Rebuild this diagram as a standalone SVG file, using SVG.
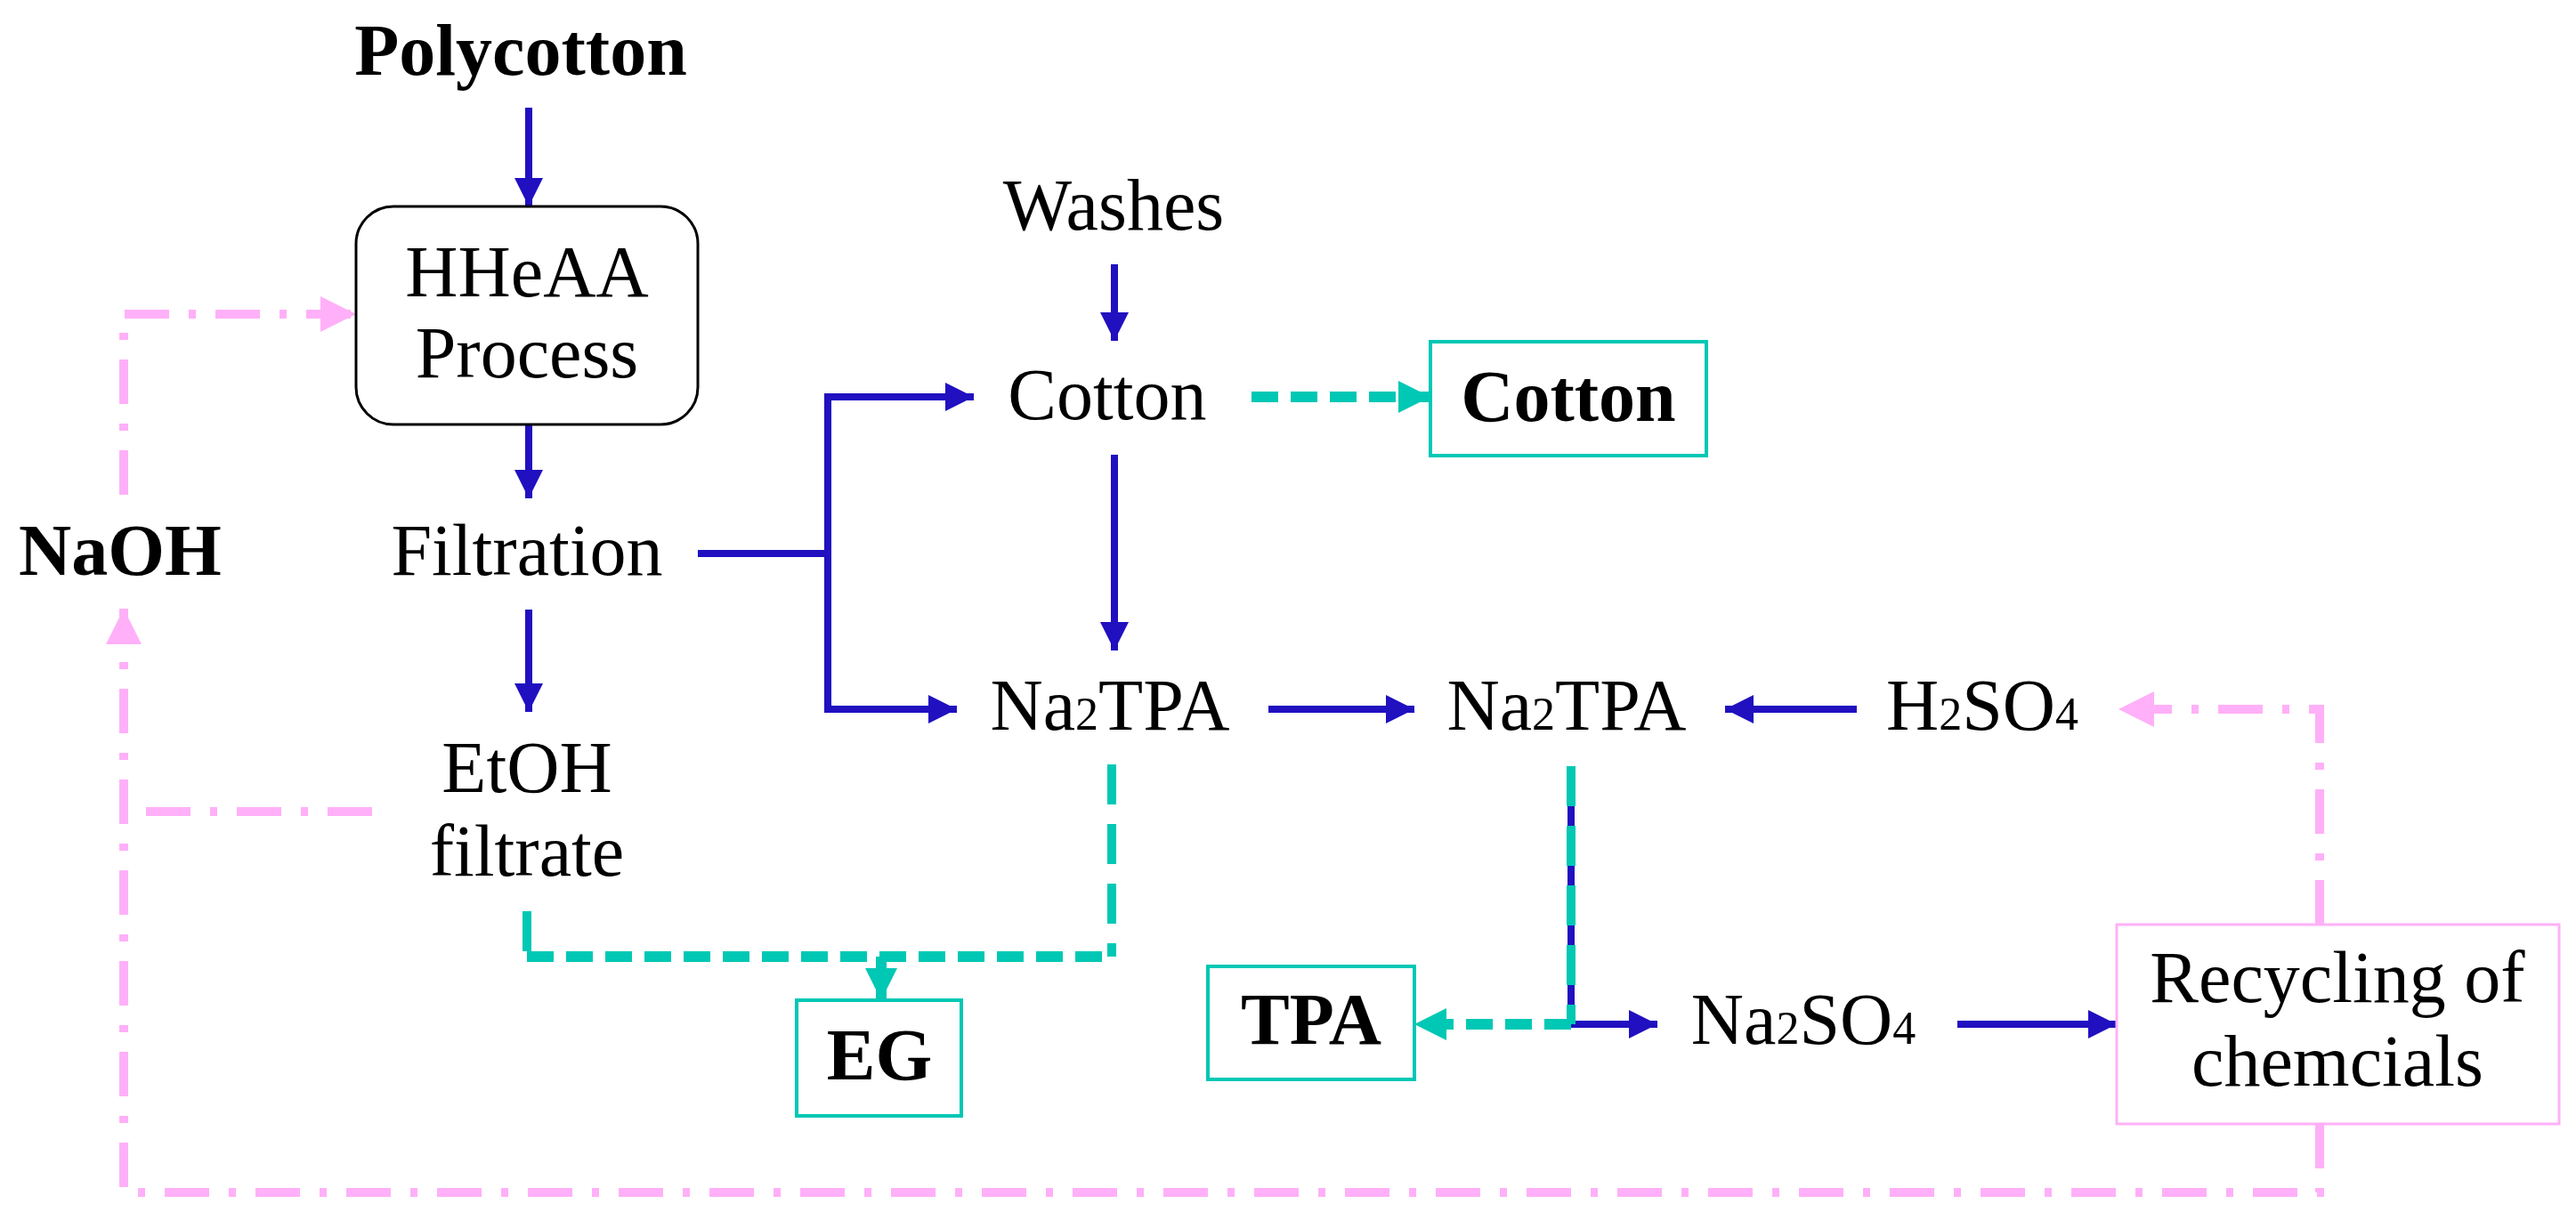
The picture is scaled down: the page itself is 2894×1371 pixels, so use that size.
<svg xmlns="http://www.w3.org/2000/svg" width="2894" height="1371" viewBox="0 0 2894 1371">
<style>
text{font-family:"Liberation Serif","DejaVu Serif",serif;font-size:82px;fill:#000;text-anchor:middle}
.b{font-weight:bold}
.s{font-size:52px}
.blue{stroke:#2010C0;stroke-width:8;fill:none}
.teal{stroke:#00C8B4;stroke-width:12;fill:none;stroke-dasharray:30 14}
.tealv{stroke:#00C8B4;stroke-width:10;fill:none;stroke-dasharray:45 22}
.pink{stroke:#FFB0F8;stroke-width:10;fill:none;stroke-dasharray:50 22 8 22}
</style>
<defs>
<marker id="ab" viewBox="0 0 10 10" refX="10" refY="5" markerWidth="4" markerHeight="4" orient="auto" markerUnits="strokeWidth"><path d="M0,0L10,5L0,10z" fill="#2010C0"/></marker>
<marker id="at" viewBox="0 0 10 10" refX="10" refY="5" markerWidth="3" markerHeight="3" orient="auto" markerUnits="strokeWidth"><path d="M0,0L10,5L0,10z" fill="#00C8B4"/></marker>
<marker id="ap" viewBox="0 0 10 10" refX="10" refY="5" markerWidth="4" markerHeight="4" orient="auto" markerUnits="strokeWidth"><path d="M0,0L10,5L0,10z" fill="#FFB0F8"/></marker>
</defs>
<g id="connectors">
<path class="blue" d="M594,121V232" marker-end="url(#ab)"/>
<path class="blue" d="M594,477V560" marker-end="url(#ab)"/>
<path class="blue" d="M594,685V800" marker-end="url(#ab)"/>
<path class="blue" d="M1252,297V383" marker-end="url(#ab)"/>
<path class="blue" d="M784,622H930"/>
<path class="blue" d="M930,797V446H1094" marker-end="url(#ab)"/>
<path class="blue" d="M930,622V797H1075" marker-end="url(#ab)"/>
<path class="blue" d="M1252,511V731" marker-end="url(#ab)"/>
<path class="blue" d="M1425,797H1589" marker-end="url(#ab)"/>
<path class="blue" d="M2086,797H1938" marker-end="url(#ab)"/>
<path class="blue" d="M1765,861V1151H1862" marker-end="url(#ab)"/>
<path class="blue" d="M2199,1151H2378" marker-end="url(#ab)"/>
<path class="teal" d="M1406,446H1607" marker-end="url(#at)"/>
<path class="tealv" d="M1249,859V1075"/>
<path class="tealv" d="M592,1024V1075"/>
<path class="teal" d="M592,1075H1249"/>
<path class="teal" style="stroke-dasharray:none" d="M990,1075V1124" marker-end="url(#at)"/>
<path class="tealv" d="M1765,861V1151"/>
<path class="teal" d="M1765,1151H1589" marker-end="url(#at)"/>
<path class="pink" d="M139,556V353H400" marker-end="url(#ap)"/>
<path class="pink" d="M2606,1263V1340H139V684" marker-end="url(#ap)"/>
<path class="pink" d="M418,912H139"/>
<path class="pink" d="M2606,1039V797H2380" marker-end="url(#ap)"/>
</g>
<g id="polycotton"><text class="b" x="585" y="84">Polycotton</text></g>
<g id="hheaa"><rect x="400" y="232" width="384" height="245" rx="42" fill="none" stroke="#000" stroke-width="3"/><text x="592" y="333">HHeAA</text><text x="592" y="424">Process</text></g>
<g id="filtration"><text x="592" y="646">Filtration</text></g>
<g id="naoh"><text class="b" x="135" y="646">NaOH</text></g>
<g id="etoh"><text x="592" y="890">EtOH</text><text x="592" y="984">filtrate</text></g>
<g id="washes"><text x="1251" y="258">Washes</text></g>
<g id="cotton1"><text x="1244" y="471">Cotton</text></g>
<g id="cotton2"><rect x="1607" y="384" width="310" height="128" fill="#fff" stroke="#00C8B4" stroke-width="4"/><text class="b" x="1762" y="473">Cotton</text></g>
<g id="na2tpa1"><text x="1247" y="820">Na<tspan class="s">2</tspan>TPA</text></g>
<g id="na2tpa2"><text x="1760" y="820">Na<tspan class="s">2</tspan>TPA</text></g>
<g id="h2so4"><text x="2227" y="820">H<tspan class="s">2</tspan>SO<tspan class="s">4</tspan></text></g>
<g id="eg"><rect x="895" y="1124" width="185" height="130" fill="#fff" stroke="#00C8B4" stroke-width="4"/><text class="b" x="988" y="1213">EG</text></g>
<g id="tpa"><rect x="1357" y="1086" width="232" height="127" fill="#fff" stroke="#00C8B4" stroke-width="4"/><text class="b" x="1473" y="1173">TPA</text></g>
<g id="na2so4"><text x="2026" y="1173">Na<tspan class="s">2</tspan>SO<tspan class="s">4</tspan></text></g>
<g id="recycling"><rect x="2378" y="1039" width="497" height="224" fill="#fff" stroke="#FFB0F8" stroke-width="3"/><text x="2626" y="1126">Recycling of</text><text x="2626" y="1220">chemcials</text></g>
</svg>
